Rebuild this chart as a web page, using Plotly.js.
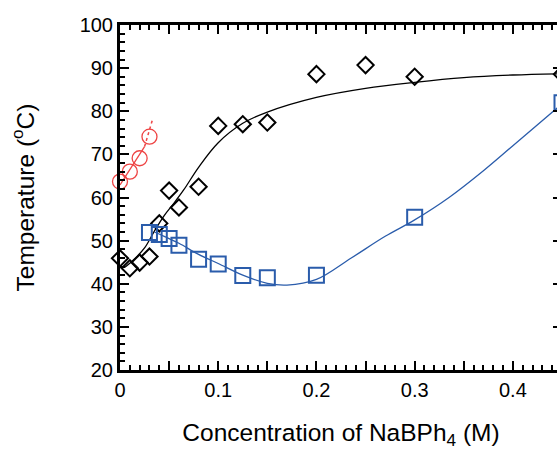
<!DOCTYPE html>
<html>
<head>
<meta charset="utf-8">
<script src="https://cdn.plot.ly/plotly-3.0.1.min.js"></script>
<style>
html, body { margin: 0; padding: 0; overflow: hidden; background: #fff; }
#chart { width: 570px; height: 450px; }
</style>
</head>
<body>
<div id="chart"></div>
<script>
// Red circles
const redX = [0, 0.01, 0.02, 0.03];
const redY = [63.7, 66.0, 69.1, 74.1];
const redLineX = [0, 0.025];
const redLineY = [62.9, 71.8];
const redDotX = [0.025, 0.033];
const redDotY = [71.8, 78.0];

// Black diamonds
const diaX = [0, 0.01, 0.02, 0.03, 0.04, 0.05, 0.06, 0.08, 0.1, 0.125, 0.15, 0.2, 0.25, 0.3, 0.45];
const diaY = [45.9, 43.6, 44.9, 46.3, 54.0, 61.6, 57.7, 62.5, 76.6, 77.0, 77.4, 88.6, 90.7, 88.0, 88.6];
const blackCurveX = [0.005, 0.015, 0.025, 0.035, 0.045, 0.055, 0.065, 0.08, 0.1, 0.125, 0.15, 0.2, 0.25, 0.3, 0.35, 0.4, 0.45];
const blackCurveY = [43.8, 45.8, 48.3, 52.2, 55.8, 58.7, 61.8, 67.0, 72.7, 77.2, 79.8, 83.2, 85.3, 86.7, 87.8, 88.4, 88.7];

// Blue squares
const sqX = [0.03, 0.04, 0.05, 0.06, 0.08, 0.1, 0.125, 0.15, 0.2, 0.3, 0.45];
const sqY = [51.9, 51.4, 50.5, 48.9, 45.7, 44.6, 41.9, 41.4, 42.0, 55.4, 82.0];
const blueCurveX = [0.035, 0.045, 0.06, 0.08, 0.1, 0.125, 0.15, 0.17, 0.2, 0.235, 0.27, 0.3, 0.335, 0.37, 0.4, 0.45];
const blueCurveY = [52.0, 51.0, 49.4, 46.8, 44.7, 42.0, 40.1, 39.7, 41.0, 45.9, 51.0, 54.8, 60.0, 66.2, 72.0, 81.7];

// Ticks
const xTickVals = [0, 0.05, 0.1, 0.15, 0.2, 0.25, 0.3, 0.35, 0.4, 0.45];
const xTickText = ['0', '', '0.1', '', '0.2', '', '0.3', '', '0.4', ''];
const yTickVals = [20, 30, 40, 50, 60, 70, 80, 90, 100];
const yTickText = ['20', '30', '40', '50', '60', '70', '80', '90', '100'];

const RED = '#ee4444';
const BLUE = '#2a5cab';

const traces = [
  { x: redLineX, y: redLineY, mode: 'lines', line: { color: RED, width: 1.3 }, hoverinfo: 'skip' },
  { x: redDotX, y: redDotY, mode: 'lines', line: { color: RED, width: 1.5, dash: 'dot' }, hoverinfo: 'skip' },
  { x: redX, y: redY, mode: 'markers', marker: { symbol: 'circle-open', size: 15, color: RED, line: { width: 1.3, color: RED } } },
  { x: blackCurveX, y: blackCurveY, mode: 'lines', line: { color: '#000', width: 1.3, shape: 'spline' }, hoverinfo: 'skip' },
  { x: diaX, y: diaY, mode: 'markers', marker: { symbol: 'diamond-open', size: 12.5, color: '#000', line: { width: 2, color: '#000' } } },
  { x: blueCurveX, y: blueCurveY, mode: 'lines', line: { color: BLUE, width: 1.3, shape: 'spline' }, hoverinfo: 'skip' },
  { x: sqX, y: sqY, mode: 'markers', marker: { symbol: 'square-open', size: 15, color: BLUE, line: { width: 2, color: BLUE } } }
];
traces.forEach(t => { t.cliponaxis = false; t.showlegend = false; });

const layout = {
  width: 570, height: 450,
  margin: { l: 120, r: 8, t: 25, b: 80 },
  paper_bgcolor: '#fff', plot_bgcolor: '#fff',
  font: { family: 'Liberation Sans, Arial, sans-serif', color: '#000', size: 20 },
  xaxis: {
    range: [0, 0.45], tickmode: 'array', tickvals: xTickVals, ticktext: xTickText,
    ticks: 'inside', ticklen: 9, tickwidth: 2, tickcolor: '#000',
    showline: true, linewidth: 3, linecolor: '#000', mirror: 'ticks',
    showgrid: false, zeroline: false,
    minor: { dtick: 0.01, ticks: 'inside', ticklen: 5, tickwidth: 2, tickcolor: '#000', showgrid: false },
    tickfont: { size: 20 },
    title: { text: 'Concentration of NaBPh<sub>4</sub> (M)', font: { size: 24.5 }, standoff: 30 }
  },
  yaxis: {
    range: [20, 100], tickmode: 'array', tickvals: yTickVals, ticktext: yTickText,
    ticks: 'inside', ticklen: 9, tickwidth: 2, tickcolor: '#000',
    showline: true, linewidth: 3, linecolor: '#000', mirror: 'ticks',
    showgrid: false, zeroline: false,
    minor: { dtick: 2, ticks: 'inside', ticklen: 5, tickwidth: 2, tickcolor: '#000', showgrid: false },
    tickfont: { size: 20 },
    title: { text: 'Temperature (<sup>o</sup>C)', font: { size: 24.5 }, standoff: 39 }
  }
};

Plotly.newPlot('chart', traces, layout, { displayModeBar: false, staticPlot: true });
</script>
</body>
</html>
